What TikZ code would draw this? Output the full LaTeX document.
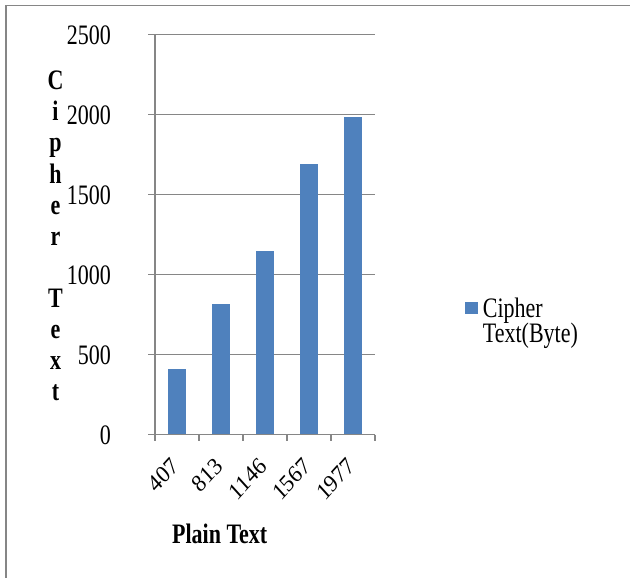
\documentclass[tikz,border=0pt]{standalone}
\usepackage{fontspec}
\setmainfont{Liberation Serif}
\usepackage{graphicx}
\definecolor{barblue}{HTML}{4F81BD}
\definecolor{axisgray}{HTML}{868686}
\newcommand{\vstr}[1]{\scalebox{1}[1.28]{#1}}
\newcommand{\rotlab}[1]{\scalebox{1}[1.1]{\rotatebox{45}{#1}}}
\begin{document}
\begin{tikzpicture}[x=1pt,y=-1pt,
  gridline/.style={draw=axisgray, line width=1.4pt},
  framel/.style={draw=axisgray, line width=1.4pt},
  barbox/.style={fill=barblue, draw=none},
  lab/.style={font=\fontsize{22}{24}\selectfont, inner sep=0pt},
  ylet/.style={font=\fontsize{22}{24}\selectfont\bfseries, inner sep=0pt, anchor=base},
  xlab/.style={font=\fontsize{22}{24}\selectfont, inner sep=0pt, anchor=north east}]
\useasboundingbox (0,0) rectangle (630,578);
% outer frame
\coordinate (fbl) at (6,580);
\coordinate (ftl) at (6,5.5);
\coordinate (ftr) at (632,5.5);
\draw[framel] (fbl) -- (ftl) -- (ftr);
% gridlines
\foreach \v/\yy in {0/434.5,500/354.5,1000/274.5,1500/194.5,2000/114.5,2500/34.5}{
  \coordinate (gl\v) at (148,\yy);
  \coordinate (gr\v) at (375,\yy);
  \draw[gridline] (gl\v) -- (gr\v);
  \node[lab, anchor=east] (yl\v) at (111,\yy+0.5) {\vstr{\v}};
}
% y axis
\coordinate (yaxt) at (155,34.5);
\coordinate (yaxb) at (155,434.5);
\draw[gridline] (yaxt) -- (yaxb);
% x ticks
\foreach \i/\xx in {0/155,1/199,2/243,3/287,4/331,5/375}{
  \coordinate (tt\i) at (\xx,434.5);
  \coordinate (tb\i) at (\xx,441);
  \draw[gridline] (tt\i) -- (tb\i);
}
% bars
\foreach \i/\cx/\top/\lbl in {1/177/369/407,2/221/304/813,3/265/251/1146,4/309/163.5/1567,5/353/117.5/1977}{
  \fill[barbox] (\cx-9,433.8) rectangle (\cx+9,\top);
  \node[xlab] (xl\i) at (\cx+3.5,456) {\rotlab{\lbl}};
}
% x title
\node[lab, anchor=base] (xtitle) at (219.7,543) {\bfseries\vstr{Plain Text}};
% y title
\foreach \k/\ch in {0/C,1/i,2/p,3/h,4/e,5/r,7/T,8/e,9/x,10/t}{
  \node[ylet] (yt\k) at (55.5,90+31*\k) {\vstr{\ch}};
}
% legend
\node[barbox, minimum width=13pt, minimum height=12pt, inner sep=0pt, anchor=north west] (legkey) at (465,301.5) {};
\node[lab, anchor=base west] (leg1) at (482.7,317) {\vstr{Cipher}};
\node[lab, anchor=base west] (leg2) at (482.7,342.7) {\vstr{Text(Byte)}};
\end{tikzpicture}
\end{document}
